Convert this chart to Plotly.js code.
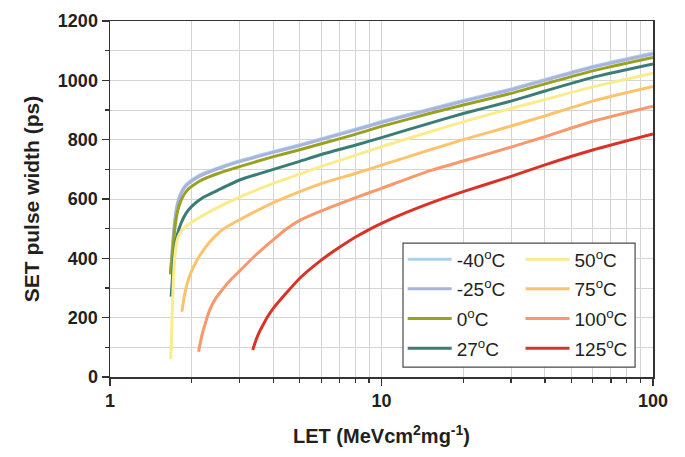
<!DOCTYPE html>
<html><head><meta charset="utf-8">
<script src="https://cdn.plot.ly/plotly-3.0.1.min.js"></script>
<style>html,body{margin:0;padding:0;background:#fff}#chart{width:685px;height:457px}</style>
</head><body><div id="chart"></div>
<script>
const seriesNames = ['-40<sup>o</sup>C', '-25<sup>o</sup>C', '0<sup>o</sup>C', '27<sup>o</sup>C', '50<sup>o</sup>C', '75<sup>o</sup>C', '100<sup>o</sup>C', '125<sup>o</sup>C'];
const seriesColors = ['#a8d3ef', '#a9b3de', '#98a222', '#3a7d75', '#f8ec8c', '#fdc36c', '#f8986b', '#d93327'];
const legendColumn = ['legend', 'legend', 'legend', 'legend', 'legend2', 'legend2', 'legend2', 'legend2'];

const letM40 = [1.67, 1.70, 1.73, 1.77, 1.82, 1.88, 1.95, 2.05, 2.2, 2.5, 3, 4, 5, 6, 8, 10, 15, 20, 30, 40, 60, 100];
const pwM40  = [352, 443, 524, 584, 619, 642, 657, 671, 686, 705, 729, 760, 783, 803, 835, 861, 903, 932, 971, 1003, 1047, 1092];
const letM25 = [1.67, 1.70, 1.73, 1.77, 1.82, 1.88, 1.95, 2.05, 2.2, 2.5, 3, 4, 5, 6, 8, 10, 15, 20, 30, 40, 60, 100];
const pwM25  = [350, 440, 520, 580, 615, 638, 653, 667, 682, 702, 726, 757, 780, 800, 832, 858, 900, 929, 968, 1000, 1044, 1089];
const let0   = [1.67, 1.70, 1.73, 1.77, 1.82, 1.88, 1.95, 2.05, 2.2, 2.5, 3, 4, 5, 6, 8, 10, 15, 20, 30, 40, 60, 100];
const pw0    = [346, 420, 495, 555, 592, 617, 635, 650, 666, 686, 709, 743, 766, 786, 818, 845, 888, 917, 956, 988, 1032, 1077];
const let27  = [1.68, 1.70, 1.73, 1.77, 1.83, 1.9, 2.0, 2.2, 2.5, 3, 4, 5, 6, 8, 10, 15, 20, 30, 40, 60, 100];
const pw27   = [271, 340, 420, 480, 520, 550, 575, 605, 630, 664, 700, 727, 750, 781, 807, 855, 888, 930, 964, 1010, 1055];
const let50  = [1.675, 1.69, 1.71, 1.73, 1.75, 1.78, 1.83, 1.9, 2.0, 2.2, 2.5, 3, 4, 5, 6, 8, 10, 15, 20, 30, 40, 60, 100];
const pw50   = [60, 180, 320, 400, 440, 470, 492, 507, 522, 545, 572, 606, 653, 684, 710, 747, 776, 826, 860, 905, 935, 978, 1024];
const let75  = [1.84, 1.87, 1.91, 1.96, 2.0, 2.08, 2.15, 2.25, 2.4, 2.6, 2.8, 3, 3.5, 4, 5, 6, 8, 10, 15, 20, 30, 40, 60, 100];
const pw75   = [220, 262, 304, 338, 358, 390, 412, 438, 468, 497, 515, 530, 562, 588, 625, 652, 686, 714, 765, 800, 846, 880, 930, 979];
const let100 = [2.12, 2.18, 2.26, 2.32, 2.45, 2.6, 2.8, 3, 3.45, 4, 4.45, 5, 6, 8, 10, 15, 20, 30, 40, 60, 100];
const pw100  = [85, 140, 190, 222, 265, 296, 330, 357, 412, 463, 498, 528, 560, 604, 636, 695, 728, 775, 810, 862, 913];
const let125 = [3.355, 3.45, 3.55, 3.65, 3.8, 4.0, 4.45, 5, 6, 7, 8, 9, 10, 12.3, 16.3, 20, 30, 40, 60, 100];
const pw125  = [91, 125, 152, 173, 202, 232, 282, 333, 394, 437, 471, 497, 518, 554, 597, 625, 676, 715, 765, 819];

const xs = [letM40, letM25, let0, let27, let50, let75, let100, let125];
const ys = [pwM40, pwM25, pw0, pw27, pw50, pw75, pw100, pw125];

const FONT = 'Arial, "Liberation Sans", Helvetica, sans-serif';
const TXT = '#231f20';

const traces = seriesNames.map((n, i) => ({
  x: xs[i], y: ys[i], name: n, type: 'scatter', mode: 'lines',
  line: {color: seriesColors[i], width: 3, shape: 'spline', smoothing: 0.5},
  legend: legendColumn[i], legendgroup: 'g' + i
}));

const legendBase = {
  orientation: 'v', xanchor: 'left', yanchor: 'top', y: 0.384,
  itemwidth: 44, tracegroupgap: 2, borderwidth: 0, bgcolor: 'rgba(0,0,0,0)',
  font: {family: FONT, size: 19, color: TXT}, traceorder: 'grouped'
};

const layout = {
  width: 685, height: 457,
  margin: {l: 110, r: 32, t: 21, b: 80},
  paper_bgcolor: '#fff', plot_bgcolor: '#fff',
  font: {family: FONT, color: TXT},
  showlegend: true,
  legend: Object.assign({}, legendBase, {x: 0.539}),
  legend2: Object.assign({}, legendBase, {x: 0.756}),
  shapes: [{type: 'rect', xref: 'paper', yref: 'paper', x0: 0.5396, x1: 0.967, y0: 0.028, y1: 0.376,
            line: {color: '#4a4a4a', width: 1.2}, fillcolor: '#fff', layer: 'above'}],
  xaxis: {
    type: 'log', range: [0, 2], dtick: 1,
    showline: true, mirror: true, linecolor: '#333', linewidth: 1.5,
    ticks: 'outside', ticklen: 7, tickwidth: 1.5, tickcolor: '#333',
    showgrid: true, gridcolor: '#d4d4d4', gridwidth: 1,
    tickfont: {family: FONT, size: 18, weight: 'bold', color: TXT},
    minor: {dtick: 'D1', ticks: 'outside', ticklen: 4, tickwidth: 1.2, tickcolor: '#333', showgrid: true, gridcolor: '#d4d4d4', gridwidth: 1},
    title: {text: 'LET (MeVcm<sup>2</sup>mg<sup>-1</sup>)', font: {family: FONT, size: 20, weight: 'bold', color: TXT}, standoff: 19},
    zeroline: false
  },
  yaxis: {
    range: [0, 1200], dtick: 200,
    showline: true, mirror: true, linecolor: '#333', linewidth: 1.5,
    ticks: 'outside', ticklen: 7, tickwidth: 1.5, tickcolor: '#333',
    showgrid: true, gridcolor: '#d4d4d4', gridwidth: 1,
    tickfont: {family: FONT, size: 18, weight: 'bold', color: TXT},
    minor: {dtick: 100, ticks: 'outside', ticklen: 4, tickwidth: 1.2, tickcolor: '#333', showgrid: true, gridcolor: '#d4d4d4', gridwidth: 1},
    title: {text: 'SET pulse width (ps)', font: {family: FONT, size: 21, weight: 'bold', color: TXT}, standoff: 12},
    zeroline: false
  }
};

Plotly.newPlot('chart', traces, layout, {displayModeBar: false, staticPlot: true});
</script>
</body></html>
